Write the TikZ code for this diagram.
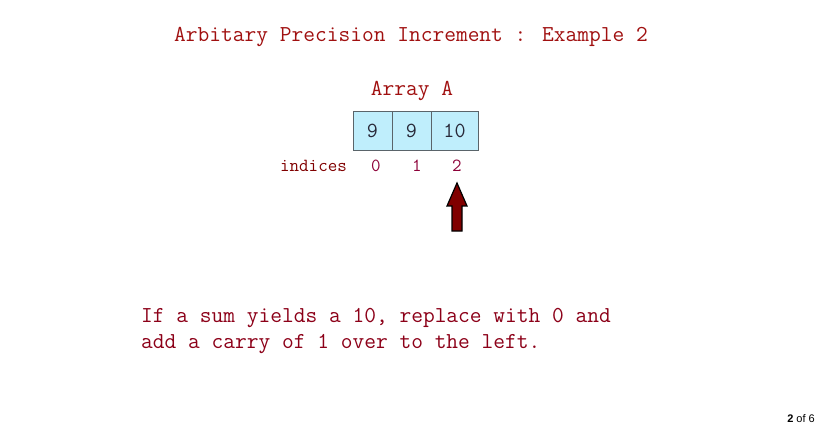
\documentclass[tikz,border=0pt]{standalone}
\usepackage{fontspec}
\setmainfont{Liberation Sans}
\definecolor{titleRed}{RGB}{160, 16, 16}
\definecolor{labelRed}{RGB}{128, 0, 0}
\definecolor{indexRed}{RGB}{140, 0, 56}
\definecolor{bodyRed}{RGB}{140, 0, 24}
\definecolor{cellFill}{RGB}{191, 238, 252}
\definecolor{cellLine}{RGB}{90, 100, 106}
\definecolor{cellText}{RGB}{40, 40, 56}
\definecolor{arrowRed}{RGB}{128, 0, 0}

\tikzset{
	bigtext/.style={font=\ttfamily\fontsize{22.8}{27}\selectfont, inner sep=0pt, anchor=base},
	smalltext/.style={font=\ttfamily\fontsize{18.5}{22}\selectfont, inner sep=0pt, anchor=base},
	cell/.style={draw=cellLine, fill=cellFill, line width=1pt, inner sep=0pt, text=cellText,
		font=\ttfamily\fontsize{21.5}{26}\selectfont},
}

\begin{document}
\begin{tikzpicture}[x=1pt, y=-1pt]

\useasboundingbox (0,0) rectangle (818,430);

%%% TITLE

\node[bigtext, text=titleRed] (title) at (411,42) {Arbitary Precision Increment : Example 2};

%%% ARRAY

\node[bigtext, text=titleRed] (arrayname) at (412,96) {Array A};

\node[cell, minimum width=39pt, minimum height=39pt] (cellA) at (372.5,131) {9};
\node[cell, minimum width=39pt, minimum height=39pt] (cellB) at (411.5,131) {9};
\node[cell, minimum width=47pt, minimum height=39pt] (cellC) at (454.5,131) {10};

%%% INDICES

\node[smalltext, text=labelRed] (indices) at (313.5,172) {indices};
\node[smalltext, text=indexRed] (idxA) at (376,172) {0};
\node[smalltext, text=indexRed] (idxB) at (417,172) {1};
\node[smalltext, text=indexRed] (idxC) at (457,172) {2};

%%% POINTER

\draw[fill=arrowRed, line width=1.2pt, line join=miter] (457,183) -- (467,206) -- (462,206) -- (462,231) -- (452,231) -- (452,206) -- (447,206) -- cycle;

%%% NOTE

\node[bigtext, text=bodyRed, anchor=base west] (noteA) at (141,322) {If a sum yields a 10, replace with 0 and};
\node[bigtext, text=bodyRed, anchor=base west] (noteB) at (141,348) {add a carry of 1 over to the left.};

%%% PAGE

\node[font=\fontsize{11}{13}\selectfont, inner sep=0pt, anchor=base east] (page) at (815,422) {\textbf{2} of 6};

\end{tikzpicture}
\end{document}
